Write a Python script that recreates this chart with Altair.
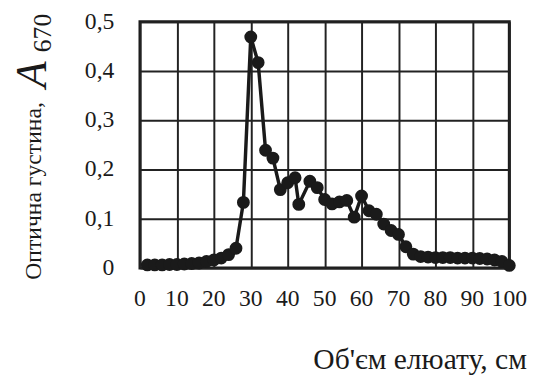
import altair as alt
import pandas as pd

# Elution volume (x) and optical density A670 (y)
volume = [2, 4, 6, 8, 10, 12, 14, 16, 18, 20, 22, 24, 26, 28, 30, 32, 34, 36, 38, 40,
          42, 43, 46, 48, 50, 52, 54, 56, 58, 60, 62, 64, 66, 68, 70, 72, 74, 76, 78, 80,
          82, 84, 86, 88, 90, 92, 94, 96, 98, 100]
density = [0.006, 0.006, 0.006, 0.007, 0.007, 0.008, 0.009, 0.010, 0.013, 0.016,
           0.020, 0.027, 0.040, 0.133, 0.469, 0.417, 0.239, 0.223, 0.159, 0.173,
           0.183, 0.129, 0.176, 0.163, 0.139, 0.130, 0.134, 0.137, 0.103, 0.146,
           0.116, 0.109, 0.089, 0.076, 0.068, 0.043, 0.028, 0.023, 0.022, 0.021,
           0.021, 0.021, 0.020, 0.020, 0.020, 0.019, 0.018, 0.016, 0.013, 0.005]

x_ticks = [0, 10, 20, 30, 40, 50, 60, 70, 80, 90, 100]
y_ticks = [0, 0.1, 0.2, 0.3, 0.4, 0.5]
y_tick_labels = ["0", "0,1", "0,2", "0,3", "0,4", "0,5"]

x_title = "Об'єм елюату, см"
y_title_main = "Оптична густина,"
y_title_symbol = "A"
y_title_sub = "670"

df = pd.DataFrame({"v": volume, "a": density})
xt = pd.DataFrame({"v": x_ticks, "lab": [str(t) for t in x_ticks]})
yt = pd.DataFrame({"a": y_ticks, "lab": y_tick_labels})

FONT = "Liberation Serif"
INK = "#1a1a1a"

xs = alt.Scale(domain=[0, 100], nice=False)
ys = alt.Scale(domain=[0, 0.5], nice=False)


def x_axis():
    return alt.Axis(values=x_ticks, title=None, labels=False, grid=True,
                    gridColor="#222222", gridWidth=2, gridOpacity=1,
                    ticks=False, domain=False)


def y_axis():
    return alt.Axis(values=y_ticks, title=None, labels=False, grid=True,
                    gridColor="#222222", gridWidth=2, gridOpacity=1,
                    ticks=False, domain=False)


base = alt.Chart(df).encode(x=alt.X("v:Q", scale=xs, axis=x_axis()),
                            y=alt.Y("a:Q", scale=ys, axis=y_axis()))
line = base.mark_line(color=INK, strokeWidth=3.5)
pts = base.mark_circle(size=170, color=INK, opacity=1)

xlab = alt.Chart(xt).mark_text(
    align="center", baseline="middle", font=FONT, fontSize=24, color=INK
).encode(x=alt.X("v:Q", scale=xs, axis=x_axis()), y=alt.value(282), text="lab:N")
ylab = alt.Chart(yt).mark_text(
    align="right", baseline="middle", font=FONT, fontSize=24, color=INK
).encode(y=alt.Y("a:Q", scale=ys, axis=y_axis()), x=alt.value(-26), text="lab:N")

t1 = alt.Chart(pd.DataFrame({"t": [y_title_main]})).mark_text(
    angle=270, align="left", baseline="alphabetic", font=FONT, fontSize=24, color=INK
).encode(text="t:N", x=alt.value(-101), y=alt.value(262))
t2 = alt.Chart(pd.DataFrame({"t": [y_title_symbol]})).mark_text(
    angle=270, align="left", baseline="alphabetic", font=FONT, fontSize=44,
    fontStyle="italic", color=INK
).encode(text="t:N", x=alt.value(-95), y=alt.value(67))
t3 = alt.Chart(pd.DataFrame({"t": [y_title_sub]})).mark_text(
    angle=270, align="left", baseline="alphabetic", font=FONT, fontSize=26, color=INK
).encode(text="t:N", x=alt.value(-90), y=alt.value(31))
t4 = alt.Chart(pd.DataFrame({"t": [x_title]})).mark_text(
    align="left", baseline="alphabetic", font=FONT, fontSize=30, color=INK
).encode(text="t:N", x=alt.value(176), y=alt.value(353))

chart = alt.layer(line, pts, xlab, ylab, t1, t2, t3, t4).properties(
    width=375, height=250,
    autosize=alt.AutoSizeParams(type="none"),
    padding={"left": 134, "top": 11, "right": 20, "bottom": 116},
    background="white",
).configure_view(
    stroke=INK, strokeWidth=3
)

chart.save("out.html", embed_options={"renderer": "svg", "actions": False})
